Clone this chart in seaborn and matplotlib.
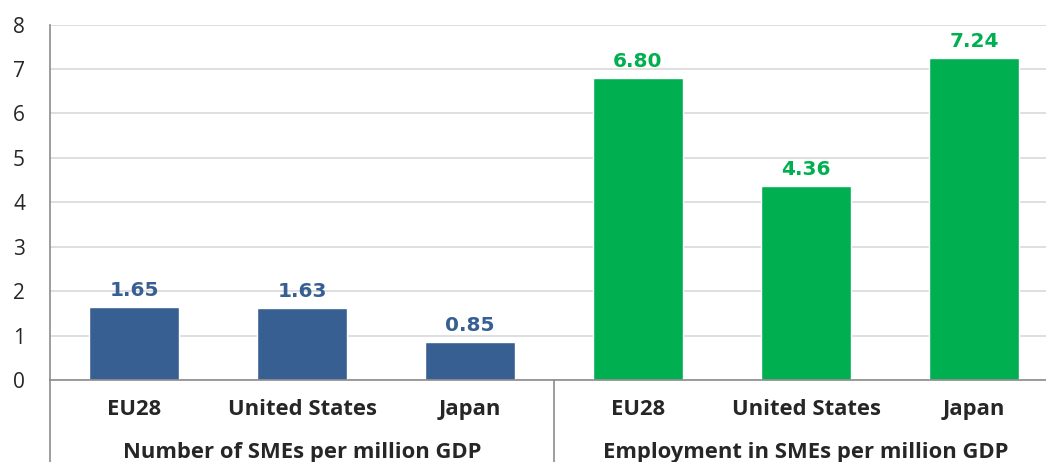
import matplotlib
matplotlib.use("Agg")
import matplotlib.pyplot as plt
import matplotlib.transforms as mtransforms
import pandas as pd
import seaborn as sns

# data
groups = ["Number of SMEs per million GDP", "Employment in SMEs per million GDP"]
countries = ["EU28", "United States", "Japan"]
sme_count = [1.65, 1.63, 0.85]
sme_employment = [6.80, 4.36, 7.24]
yticks = [0, 1, 2, 3, 4, 5, 6, 7, 8]

blue = "#375F92"
green = "#00B050"
axis_grey = "#8C8C8C"

rows = []
for grp, vals in zip(groups, [sme_count, sme_employment]):
    for c, v in zip(countries, vals):
        rows.append({"slot": grp + "|" + c, "group": grp, "country": c, "value": v})
df = pd.DataFrame(rows)

sns.set_style("white")
plt.rcParams["font.family"] = ["DejaVu Sans"]

fig = plt.figure(figsize=(10.46, 4.62), dpi=100)
ax = fig.add_axes([50 / 1046, (462 - 380) / 462, 1.0 - 50 / 1046, (380 - 24.6) / 462])

sns.barplot(data=df, x="slot", y="value", hue="group", palette=[blue, green],
            dodge=False, width=0.535, saturation=1, legend=False, ax=ax)

# value labels
for cont, col in zip(ax.containers, [blue, green]):
    ax.bar_label(cont, fmt="%.2f", padding=5, color=col, fontsize=14.5,
                 fontweight="bold", family="DejaVu Sans")

ax.set_ylim(0, 8)
ax.set_xlim(-0.5, 5.5 - 12 / 168)
ax.set_yticks(yticks)
ax.set_yticklabels([str(t) for t in yticks], family="Open Sans", fontsize=15)
ax.tick_params(axis="y", length=0, pad=18)
ax.set_xticks([])
ax.set_xlabel("")
ax.set_ylabel("")
ax.yaxis.grid(True, color="#D9D9D9", linewidth=1.2)
ax.set_axisbelow(True)

for side in ["top", "right"]:
    ax.spines[side].set_visible(False)
ax.spines["left"].set_color(axis_grey)
ax.spines["bottom"].set_color(axis_grey)
ax.spines["left"].set_linewidth(1.2)
ax.spines["bottom"].set_linewidth(1.2)

# multi-level category axis
trans = mtransforms.blended_transform_factory(ax.transData, ax.transAxes)
for i, lab in enumerate(df["country"]):
    ax.text(i, -0.084, lab, transform=trans, ha="center", va="center",
            family="Open Sans", fontweight="bold", fontsize=15.8)
for g, grp in enumerate(groups):
    ax.text(g * 3 + 1, -0.205, grp, transform=trans, ha="center", va="center",
            family="Open Sans", fontweight="bold", fontsize=15.8)

ax.plot([-0.5, -0.5], [0, -0.235], transform=trans, color=axis_grey,
        linewidth=1.2, clip_on=False)
ax.plot([2.5, 2.5], [0, -0.235], transform=trans, color=axis_grey,
        linewidth=1.2, clip_on=False)

fig.savefig("out.png", dpi=100)
